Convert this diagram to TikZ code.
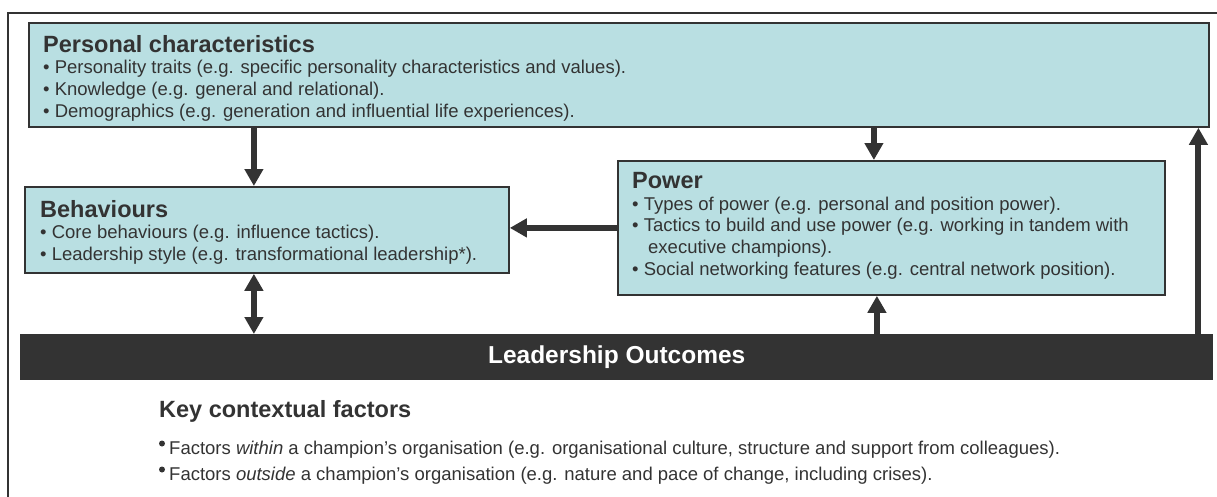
\documentclass[tikz,border=0pt]{standalone}
\usepackage{fontspec}
\setmainfont{Liberation Sans}
\usetikzlibrary{arrows.meta,positioning}
\definecolor{boxteal}{HTML}{B9DFE2}
\definecolor{darkgrey}{HTML}{333333}

\newcommand{\bodyfont}{\fontsize{18.5}{21.7}\selectfont}
\newcommand{\headfont}{\fontsize{23.5}{21.7}\selectfont\bfseries}

\begin{document}
\begin{tikzpicture}[x=1pt,y=-1pt,
  Head/.tip={Triangle[width=18pt,length=17pt]},
  box/.style={draw=darkgrey, line width=1.8pt, fill=boxteal, anchor=north west},
  boxtext/.style={anchor=north west, inner sep=0pt, align=left, text=darkgrey, font=\bodyfont},
  factor/.style={anchor=base west, inner sep=0pt, text=darkgrey, font=\bodyfont},
  bar/.style={fill=darkgrey, anchor=north west, text=white, font=\fontsize{24.5}{28}\selectfont\bfseries},
  link/.style={darkgrey, line width=6pt, -Head},
  twoway/.style={link, Head-Head}]
\useasboundingbox (0,0) rectangle (1217,496);
\draw[darkgrey, line width=2.2pt] (8,500) -- (8,13) -- (1222,13);

\node[box, minimum width=1180pt, minimum height=104pt] (pers) at (28,22) {};
\node[boxtext] (perstext) at ([shift={(15,13)}]pers.north west) {{\headfont Personal characteristics}\\
  • Personality traits (e.g. specific personality characteristics and values).\\
  • Knowledge (e.g. general and relational).\\
  • Demographics (e.g. generation and influential life experiences).};

\node[box, minimum width=484pt, minimum height=86pt] (behav) at (24,186) {};
\node[boxtext] (behavtext) at ([shift={(16,14)}]behav.north west) {{\headfont Behaviours}\\
  • Core behaviours (e.g. influence tactics).\\
  • Leadership style (e.g. transformational leadership*).};

\node[box, minimum width=547pt, minimum height=134pt] (power) at (617,160) {};
\node[boxtext] (powertext) at ([shift={(15,12)}]power.north west) {{\headfont Power}\\
  • Types of power (e.g. personal and position power).\\
  • Tactics to build and use power (e.g. working in tandem with\\
  \hspace*{16pt}executive champions).\\
  • Social networking features (e.g. central network position).};

\node[bar, minimum width=1193pt, minimum height=46pt] (bar) at (20,334) {Leadership Outcomes};

\node[anchor=base west, inner sep=0pt, text=darkgrey, font=\headfont] (keyhead) at (159,417) {Key contextual factors};
\node[factor] (inside) at (169,454)
  {Factors \textit{within} a champion’s organisation (e.g. organisational culture, structure and support from colleagues).};
\node[factor] (outside) at (169,480)
  {Factors \textit{outside} a champion’s organisation (e.g. nature and pace of change, including crises).};
\fill[darkgrey] ([shift={(-7,-10.5)}]inside.base west) circle (3pt);
\fill[darkgrey] ([shift={(-7,-10.5)}]outside.base west) circle (3pt);

% connectors
\coordinate (bhin) at ([xshift=-13pt]behav.north);
\coordinate (bhout) at ([xshift=-13pt]behav.south);
\coordinate (pwin) at ([xshift=-17.5pt]power.north);
\coordinate (pwout) at ([xshift=-14.5pt]power.south);
\coordinate (rise) at ([xshift=-15pt]bar.north east);
\draw[link] (pers.south -| bhin) -- (bhin);
\draw[twoway] (bhout) -- (bhout |- bar.north);
\draw[link] (pers.south -| pwin) -- (pwin);
\draw[link] (power.west) -- (power.west -| behav.east);
\draw[link] (bar.north -| pwout) -- (pwout);
\draw[link] (rise) -- (rise |- pers.south);
\end{tikzpicture}
\end{document}
